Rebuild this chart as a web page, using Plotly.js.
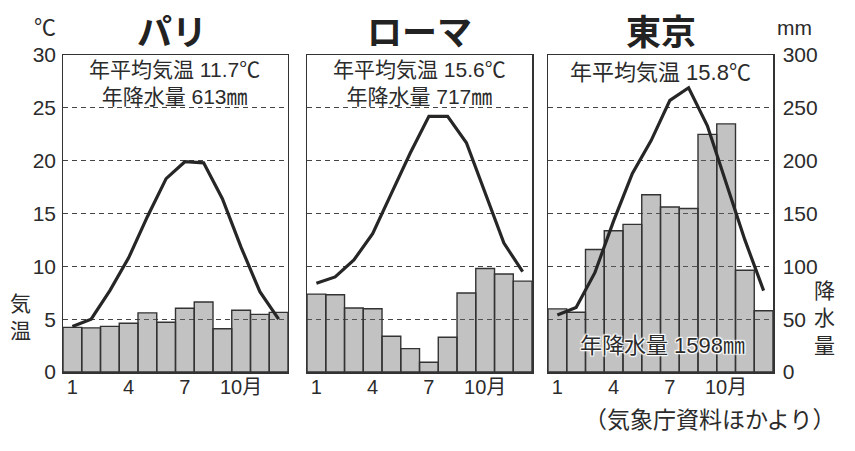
<!DOCTYPE html>
<html><head><meta charset="utf-8">
<script src="https://cdn.plot.ly/plotly-3.0.1.min.js"></script>
<style>html,body{margin:0;padding:0;background:#fff}#chart{width:855px;height:451px}</style>
</head><body><div id="chart"></div>
<script>
const months = [1,2,3,4,5,6,7,8,9,10,11,12];
const monthTickVals = [1,4,7,10];
const monthTickText = ['1','4','7','10月'];
const tempTicks = [0,5,10,15,20,25,30];
const precipTicks = [0,50,100,150,200,250,300];

const parisTemp = [4.3, 5.0, 7.7, 10.8, 14.7, 18.3, 19.9, 19.8, 16.4, 11.8, 7.6, 5.0];
const parisPrecip = [42.2, 41.8, 43.2, 46.2, 56.0, 47.1, 60.3, 66.2, 40.9, 58.4, 54.5, 56.4];
const romeTemp = [8.4, 9.0, 10.6, 13.1, 16.9, 20.7, 24.2, 24.2, 21.7, 16.9, 12.2, 9.5];
const romePrecip = [73.7, 73.1, 60.5, 59.8, 33.9, 22.1, 9.2, 32.9, 74.7, 98.0, 92.7, 86.0];
const tokyoTemp = [5.4, 6.1, 9.4, 14.3, 18.8, 21.9, 25.7, 26.9, 23.3, 18.0, 12.5, 7.7];
const tokyoPrecip = [59.7, 56.5, 116.0, 133.7, 139.7, 167.8, 156.2, 154.7, 224.9, 234.8, 96.3, 57.9];

const cityNames = ['パリ','ローマ','東京'];
const meanTempText = ['年平均気温 11.7℃','年平均気温 15.6℃','年平均気温 15.8℃'];
const annualPrecipText = ['年降水量 613㎜','年降水量 717㎜','年降水量 1598㎜'];

const FONT = 'Liberation Sans, Arial, Noto Sans CJK JP, sans-serif';
const JFONT = 'Noto Sans CJK JP, sans-serif';
const INK = '#2b2b2b';

function barTrace(vals, xa, ya){
  return {type:'bar', x:months, y:vals, xaxis:xa, yaxis:ya, width:1,
    marker:{color:'#c9c9c9', line:{color:'#333', width:1.4},
      pattern:{shape:'.', fgcolor:'#666', size:2, solidity:0.45}},
    hoverinfo:'skip', showlegend:false};
}
function lineTrace(vals, xa, ya){
  return {type:'scatter', mode:'lines', x:months, y:vals, xaxis:xa, yaxis:ya,
    line:{color:'#262626', width:3.2}, hoverinfo:'skip', showlegend:false};
}
const data = [
  barTrace(parisPrecip,'x','y'), barTrace(romePrecip,'x2','y2'), barTrace(tokyoPrecip,'x3','y3'),
  lineTrace(parisTemp,'x','y4'), lineTrace(romeTemp,'x2','y5'), lineTrace(tokyoTemp,'x3','y6')
];

const domains = [[0,0.3169],[0.3437,0.6606],[0.6831,1]];
function xax(i){
  return {domain:domains[i], range:[0.5,12.5], tickvals:monthTickVals, ticktext:monthTickText,
    ticks:'', showline:true, linecolor:'#333', linewidth:1.5, mirror:true, showgrid:false, zeroline:false,
    tickfont:{family:FONT, size:20, color:INK}, ticklabelstandoff:-4, fixedrange:true};
}
function baseY(anchor, showLabels, side){
  return {anchor:anchor, domain:[0,1], range:[0,300], tickvals:precipTicks, showticklabels:showLabels,
    side:side, ticks:'', showline:true, linecolor:'#333', linewidth:1.5, mirror:true,
    showgrid:true, gridcolor:'#444', gridwidth:1.2, griddash:'5px,4px', zeroline:false,
    tickfont:{family:FONT, size:21, color:INK}, ticklabelstandoff:4, fixedrange:true};
}
function tempY(anchor, over, showLabels){
  return {anchor:anchor, overlaying:over, range:[0,30], tickvals:tempTicks, showticklabels:showLabels,
    side:'left', ticks:'', showline:false, showgrid:false, zeroline:false,
    tickfont:{family:FONT, size:21, color:INK}, ticklabelstandoff:6, fixedrange:true};
}

const P = px => (px-63)/710;
const Q = py => (372-py)/317;
const ann = [];
function add(text, x, y, size, opts){
  ann.push(Object.assign({text:text, xref:'paper', yref:'paper', x:x, y:y, xanchor:'center', yanchor:'middle',
    showarrow:false, font:{family:FONT, size:size, color:INK}}, opts||{}));
}
const titleX = [172, 419, 661];
cityNames.forEach((t,i)=>add('<b>'+t+'</b>', P(titleX[i]), Q(29), 35, {font:{family:JFONT, size:35, color:'#222'}}));
add(meanTempText[0] + '<br>' + annualPrecipText[0], P(174), Q(83), 21);
add(meanTempText[1] + '<br>' + annualPrecipText[1], P(419), Q(83), 21);
add(meanTempText[2], P(660), Q(72), 22);
add(annualPrecipText[2], P(662), Q(345), 22,
  {font:{family:FONT, size:22, color:INK, shadow:'1px 1px 1px #fff, -1px -1px 1px #fff, 1px -1px 1px #fff, -1px 1px 1px #fff, 0 0 3px #fff'}});
add('℃', P(45), Q(25), 22, {font:{family:JFONT, size:22, color:INK}});
add('mm', P(794), Q(27), 21);
const vopt = {font:{family:JFONT, size:21, color:INK}};
add('気<br>温', P(20), Q(315), 21, vopt);
add('降<br>水<br>量', P(825), Q(316), 21, vopt);
add('（気象庁資料ほかより）', P(709), Q(418), 23, {font:{family:JFONT, size:23, color:INK}});

const layout = {
  width:855, height:451, margin:{l:63, r:82, t:55, b:79},
  paper_bgcolor:'#fff', plot_bgcolor:'#fff', bargap:0, showlegend:false,
  xaxis:xax(0), xaxis2:xax(1), xaxis3:xax(2),
  yaxis:baseY('x', false, 'left'), yaxis2:baseY('x2', false, 'left'), yaxis3:baseY('x3', true, 'right'),
  yaxis4:tempY('x','y',true), yaxis5:tempY('x2','y2',false), yaxis6:tempY('x3','y3',false),
  annotations:ann
};
Plotly.newPlot('chart', data, layout, {displayModeBar:false, staticPlot:true});
</script></body></html>
